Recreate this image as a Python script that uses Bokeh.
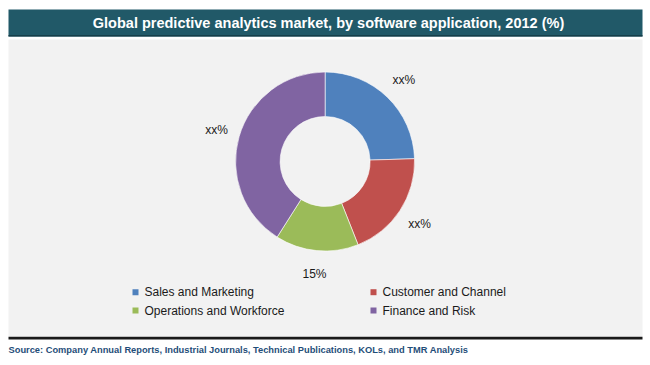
import math
from bokeh.plotting import figure
from bokeh.models import Range1d
from bokeh.core.properties import value
from bokeh.embed import file_html
from bokeh.resources import INLINE

TITLE = "Global predictive analytics market, by software application, 2012 (%)"
SOURCE = "Source: Company Annual Reports, Industrial Journals, Technical Publications, KOLs, and TMR Analysis"
categories = ["Sales and Marketing", "Customer and Channel", "Operations and Workforce", "Finance and Risk"]
shares = [24.5, 19.5, 15.0, 41.0]
labels = ["xx%", "xx%", "15%", "xx%"]
colors = ["#4F81BD", "#C0504D", "#9BBB59", "#8064A2"]

W, H = 650, 365
p = figure(width=W, height=H, x_range=Range1d(0, W), y_range=Range1d(0, H),
           output_backend="svg", toolbar_location=None,
           x_axis_location=None, y_axis_location=None,
           min_border=0, min_border_left=0, min_border_right=0,
           min_border_top=0, min_border_bottom=0)
p.grid.visible = False
p.outline_line_color = None
p.background_fill_color = "white"
p.border_fill_color = "white"

L, R = 8, 642
# frame decorations
p.quad(left=[L], right=[R], bottom=[329], top=[356], fill_color="#215968", line_color=None)
p.quad(left=[L], right=[R], bottom=[329], top=[330.5], fill_color="#163F4A", line_color=None)
p.quad(left=[L], right=[R], bottom=[29], top=[326], fill_color="#F2F2F2", line_color=None)
p.quad(left=[L], right=[R], bottom=[26], top=[28.7], fill_color="#1A1A1A", line_color=None)

p.text(x=[328], y=[342.5], text=[TITLE], text_align="center", text_baseline="middle",
       text_font=value("Liberation Sans"), text_font_style="bold",
       text_font_size="14.5px", text_color="white")
p.text(x=[8], y=[16], text=[SOURCE], text_align="left", text_baseline="middle",
       text_font=value("Liberation Sans"), text_font_style="bold",
       text_font_size="9.3px", text_color="#1F4E79")

# donut
cx, cy = 324.6, 204.0
r_in, r_out = 45, 89.5
total = sum(shares)
starts, ends, mids = [], [], []
acc = 0.0
for s in shares:
    a0 = math.pi / 2 - 2 * math.pi * acc / total
    acc += s
    a1 = math.pi / 2 - 2 * math.pi * acc / total
    starts.append(a0)
    ends.append(a1)
    mids.append((a0 + a1) / 2)

p.annular_wedge(x=[cx] * 4, y=[cy] * 4, inner_radius=r_in, outer_radius=r_out,
                start_angle=starts, end_angle=ends, direction="clock",
                fill_color=colors, line_color="white", line_width=0.6)

r_lab = 113
lx = [cx + r_lab * math.cos(m) for m in mids]
ly = [cy + r_lab * math.sin(m) for m in mids]
p.text(x=lx, y=ly, text=labels, text_align="center", text_baseline="middle",
       text_font=value("Liberation Sans"), text_font_size="12px", text_color="#1A1A1A")

# legend (2 columns)
col_x = [135, 373]
row_y = [73.3, 55]
mx, my = [], []
for i in range(len(categories)):
    mx.append(col_x[i % 2])
    my.append(row_y[i // 2])
p.scatter(x=mx, y=my, marker="square", size=6, fill_color=colors, line_color=None)
p.text(x=[v + 9 for v in mx], y=my, text=categories, text_align="left", text_baseline="middle",
       text_font=value("Liberation Sans"), text_font_size="12px", text_color="#1A1A1A")

open("out.html", "w").write(file_html(p, INLINE))
